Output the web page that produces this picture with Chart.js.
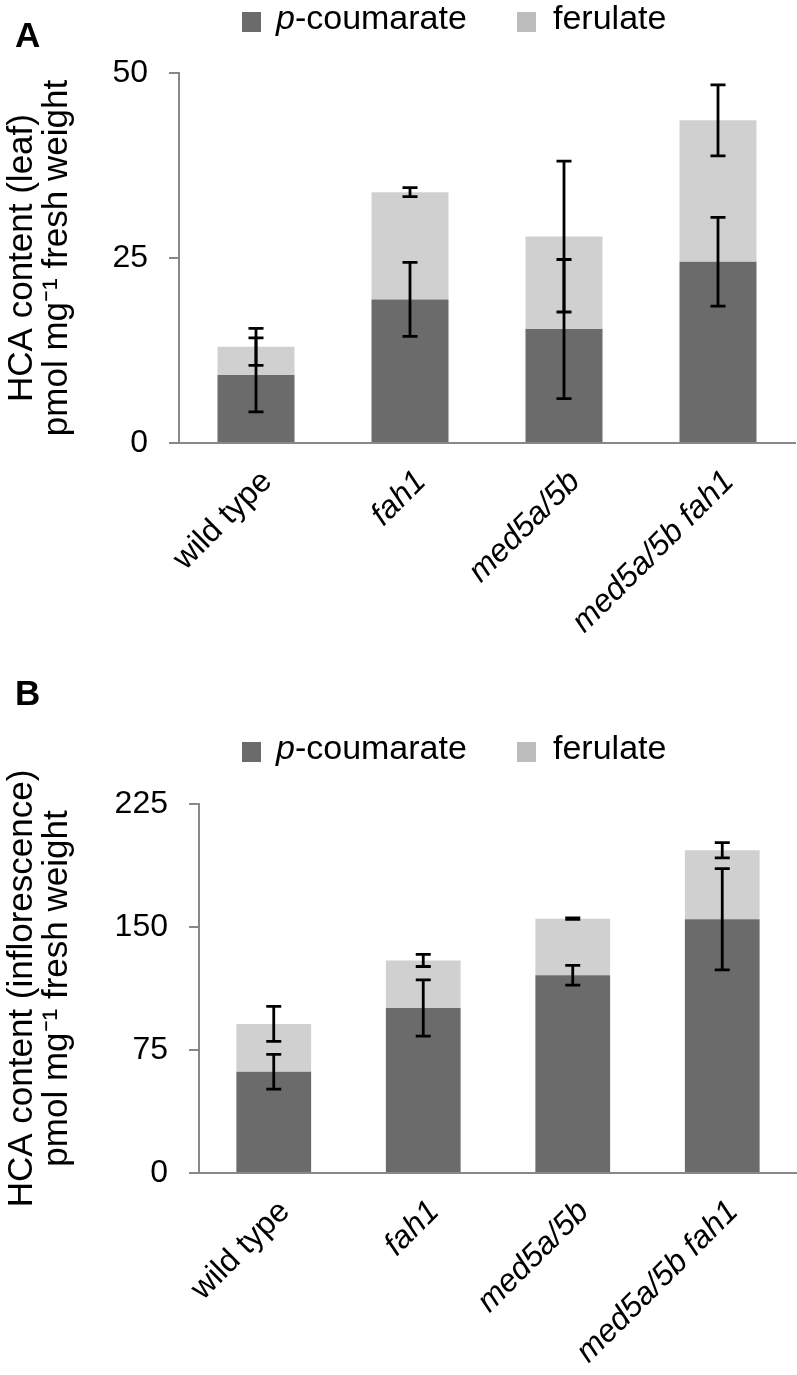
<!DOCTYPE html>
<html>
<head>
<meta charset="utf-8">
<script src="https://cdn.jsdelivr.net/npm/chart.js@4.4.1/dist/chart.umd.min.js"></script>
<style>
body { margin:0; background:#fff; }
#wrap { position:relative; width:797px; height:1375px; }
canvas { position:absolute; left:0; }
</style>
</head>
<body>
<div id="wrap">
<canvas id="chartA" width="797" height="660" style="top:0"></canvas>
<canvas id="chartB" width="797" height="715" style="top:660px"></canvas>
</div>
<script>
var genotypes = ["wild type", "fah1", "med5a/5b", "med5a/5b fah1"];

// A - leaf
var leafCoumarate = [9.2, 19.4, 15.4, 24.5];
var leafFerulate = [3.8, 14.5, 12.5, 19.1];
var leafCoumarateErr = [5.0, 5.0, 9.4, 6.0];
var leafTotalErr = [2.5, 0.6, 10.2, 4.8];
var leafTicks = [0, 25, 50];

// B - inflorescence
var inflCoumarate = [61.7, 100.6, 120.6, 154.7];
var inflFerulate = [29.2, 29.0, 34.5, 42.1];
var inflCoumarateErr = [10.6, 17.2, 6.0, 30.9];
var inflTotalErr = [10.7, 3.7, 0.4, 4.7];
var inflTicks = [0, 75, 150, 225];

var FONT = '"Liberation Sans", Arial, sans-serif';
var DARK = '#6b6b6b', LIGHT = '#d0d0d0', AXIS = '#888888';
Chart.defaults.font.family = FONT;

var errorBars = {
  id: 'errorBars',
  afterDatasetsDraw: function(chart) {
    var ctx = chart.ctx, y = chart.scales.y;
    var base = [0, 0, 0, 0];
    chart.data.datasets.forEach(function(ds, i) {
      chart.getDatasetMeta(i).data.forEach(function(bar, j) {
        base[j] += ds.data[j];
        var top = y.getPixelForValue(base[j] + ds.errors[j]);
        var bot = y.getPixelForValue(base[j] - ds.errors[j]);
        ctx.save();
        ctx.strokeStyle = '#000';
        ctx.lineWidth = 2.8;
        ctx.beginPath();
        ctx.moveTo(bar.x, top); ctx.lineTo(bar.x, bot);
        ctx.moveTo(bar.x - 7.5, top); ctx.lineTo(bar.x + 7.5, top);
        ctx.moveTo(bar.x - 7.5, bot); ctx.lineTo(bar.x + 7.5, bot);
        ctx.stroke();
        ctx.restore();
      });
    });
  }
};

// panel letter + legend (italic p needs mixed fonts)
var panelLabels = {
  id: 'panelLabels',
  afterDraw: function(chart, args, opts) {
    var ctx = chart.ctx;
    ctx.save();
    ctx.textBaseline = 'alphabetic';
    ctx.textAlign = 'left';
    ctx.fillStyle = '#000';
    ctx.font = 'bold 35px ' + FONT;
    ctx.fillText(opts.letter, 15, opts.letterY);

    var y = opts.legendY;
    ctx.fillStyle = DARK;
    ctx.fillRect(242, y - 17, 19, 20);
    ctx.fillStyle = '#000';
    ctx.font = 'italic 34px ' + FONT;
    ctx.fillText('p', 276, y);
    var w = ctx.measureText('p').width;
    ctx.font = '34px ' + FONT;
    ctx.fillText('-coumarate', 276 + w, y);

    ctx.fillStyle = '#bdbdbd';
    ctx.fillRect(517, y - 17, 19, 20);
    ctx.fillStyle = '#000';
    ctx.fillText('ferulate', 553, y);
    ctx.restore();
  }
};

function makeChart(id, coum, fer, coumErr, totErr, ticks, title, o) {
  return new Chart(document.getElementById(id), {
    type: 'bar',
    data: {
      labels: genotypes,
      datasets: [
        { label: 'p-coumarate', data: coum, errors: coumErr, backgroundColor: DARK },
        { label: 'ferulate', data: fer, errors: totErr, backgroundColor: LIGHT }
      ]
    },
    options: {
      responsive: false,
      animation: false,
      layout: { padding: { top: o.top, right: o.right, left: 0, bottom: 0 } },
      datasets: { bar: { barPercentage: 0.5, categoryPercentage: 1.0 } },
      plugins: {
        legend: { display: false },
        tooltip: { enabled: false },
        panelLabels: { letter: o.letter, letterY: o.letterY, legendY: o.legendY }
      },
      scales: {
        x: {
          stacked: true,
          grid: { display: false, drawTicks: false },
          border: { display: true, color: AXIS, width: 2 },
          ticks: {
            color: '#000',
            minRotation: 45,
            maxRotation: 45,
            padding: 20,
            labelOffset: 11,
            font: function(c) {
              return { family: FONT, size: 32, style: c.index === 0 ? 'normal' : 'italic' };
            }
          },
          afterFit: function(s) { s.height = o.xh; }
        },
        y: {
          stacked: true,
          min: 0,
          max: ticks[ticks.length - 1],
          afterBuildTicks: function(s) {
            s.ticks = ticks.map(function(v) { return { value: v }; });
          },
          grid: { drawOnChartArea: false, color: AXIS, lineWidth: 2, tickLength: 10 },
          border: { display: true, color: AXIS, width: 2 },
          ticks: { color: '#000', padding: 21, font: { size: 32 } },
          title: {
            display: true,
            text: [title, 'pmol mg\u207B\u00B9 fresh weight'],
            color: '#000',
            font: { size: 35, lineHeight: 1 },
            padding: { top: 5, bottom: 0 }
          },
          afterFit: function(s) { s.width = o.yw; }
        }
      }
    },
    plugins: [errorBars, panelLabels]
  });
}

makeChart('chartA', leafCoumarate, leafFerulate, leafCoumarateErr, leafTotalErr, leafTicks,
  'HCA content (leaf)', { top: 73, right: 2, xh: 217, yw: 179, letter: 'A', letterY: 47, legendY: 29 });
makeChart('chartB', inflCoumarate, inflFerulate, inflCoumarateErr, inflTotalErr, inflTicks,
  'HCA content (inflorescence)', { top: 144, right: 0, xh: 202, yw: 199, letter: 'B', letterY: 45, legendY: 99 });
</script>
</body>
</html>
